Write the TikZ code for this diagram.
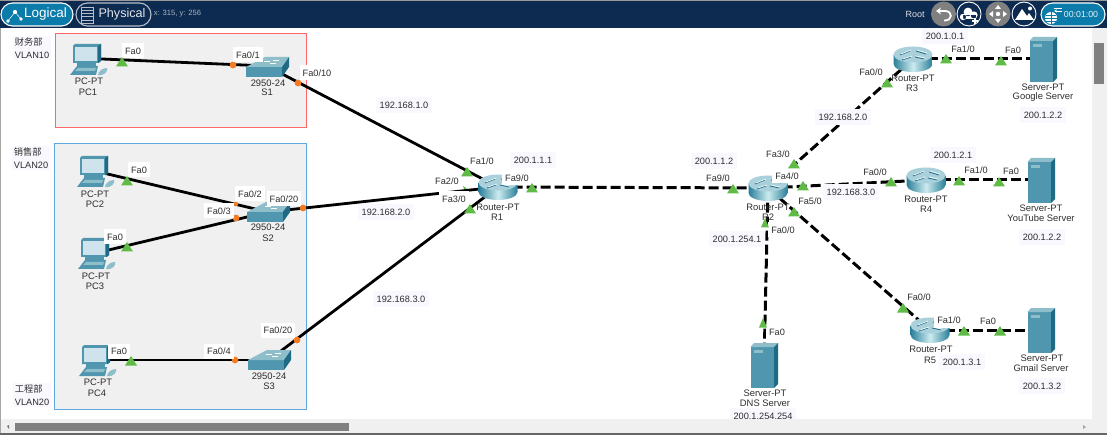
\documentclass[tikz,border=0pt]{standalone}
\usetikzlibrary{arrows.meta}
\usepackage{fontspec}
\setmainfont{Liberation Sans}
\newfontfamily\cjk{Noto Sans CJK SC}
\definecolor{barblue}{HTML}{0D2A50}
\definecolor{pillblue}{HTML}{0B7BAA}
\definecolor{zonegrey}{HTML}{F0F0F0}
\definecolor{tagbg}{HTML}{F8F8FE}
\definecolor{txt}{HTML}{2E2E2E}
\definecolor{portgreen}{HTML}{5FBB46}
\definecolor{portorange}{HTML}{F47B20}
\definecolor{teal}{HTML}{4F96AE}
\definecolor{tealdark}{HTML}{1F6B85}
\definecolor{teallight}{HTML}{8FBECB}
\definecolor{screenblue}{HTML}{CFE3EC}
\definecolor{rtside}{HTML}{2A7F98}
\definecolor{rtmid}{HTML}{CDEBF0}
\definecolor{rttop}{HTML}{A9D0DB}
\newcounter{tagno}
\newcommand{\devlabel}[3]{\stepcounter{tagno}\node[devtxt] (tag\thetagno) at (#1,#2) {#3};}
\newcommand{\portlabel}[3]{\stepcounter{tagno}\node[porttxt] (tag\thetagno) at (#1,#2) {#3};}
\newcommand{\nettag}[3]{\stepcounter{tagno}\node[nettxt] (tag\thetagno) at (#1,#2) {#3};}
\tikzset{
  devtxt/.style={font=\fontsize{9.4}{10}\selectfont,text=txt,inner sep=0pt},
  porttxt/.style={font=\fontsize{9.2}{10}\selectfont,text=txt,fill=white,inner xsep=3pt,inner ysep=0pt,minimum height=15pt},
  nettxt/.style={font=\fontsize{9.2}{10}\selectfont,text=txt,fill=tagbg,inner xsep=4pt,inner ysep=0pt,minimum height=16pt},
  vlantxt/.style={font=\fontsize{9.2}{12.4}\selectfont,text=txt,fill=tagbg,inner xsep=2pt,inner ysep=2pt,align=left},
  anchorpt/.style={inner sep=0pt,minimum size=1pt},
  copper/.style={line width=2.8pt,black},
  fibre/.style={line width=3pt,black,dash pattern=on 10pt off 4pt},
  barpill/.style={rounded corners=11.5pt,line width=1.1pt},
  pics/pcicon/.style={code={
    \fill[teal] (-15,-14) -- (-13,-16) -- (13,-16) -- (13,1) -- (11,3) -- (-15,3) -- cycle;
    \fill[tealdark] (10,-14) -- (13,-16) -- (13,1) -- (10,3) -- cycle;
    \fill[screenblue] (-13,-13) rectangle (9,1);
    \fill[teal] (-11,3) rectangle (8,6);
    \fill[teal] (-18,15) -- (-11,6) -- (10,6) -- (8,15) -- cycle;
    \fill[teallight] (-13,11) -- (-10,8) -- (8,8) -- (7,11) -- cycle;
    \fill[teallight] (10,15) .. controls (10,11) and (15,8) .. (19,8) .. controls (20,11) and (17,16) .. (10,15) -- cycle;
  }},
  pics/swicon/.style={code={
    \fill[teal] (-21,0) rectangle (15,10);
    \fill[teallight] (-21,0) -- (-2,-10) -- (22,-10) -- (15,0) -- cycle;
    \fill[tealdark] (15,0) -- (22,-10) -- (22,0) -- (15,10) -- cycle;
    \draw[white,line width=.5pt] (-3,-6) -- (3,-6) (3,-4) -- (9,-4) (6,-7) -- (12,-7);
  }},
  pics/rticon/.style={code={
    \shade[left color=rtside,right color=rtside,middle color=rtmid]
      (-19.5,-4.5) -- (-19.5,5) arc[start angle=180,end angle=360,x radius=19.5,y radius=-8]
      -- (19.5,-4.5) -- cycle;
    \fill[rttop] (0,-4.5) ellipse[x radius=19.5,y radius=8];
    \draw[tealdark,line width=.8pt] (-13,-4) -- (-3,-8) (-2,-2) -- (-11,1) (3,-8) -- (13,-5) (2,-2) -- (11,0);
    \draw[white,line width=.6pt] (-12,-5) -- (-2,-9) (-1,-3) -- (-10,0) (4,-9) -- (14,-6) (3,-3) -- (12,-1);
  }},
  pics/svicon/.style={code={
    \fill[teal] (-13.5,-18) rectangle (10,23);
    \fill[teallight] (-13.5,-18) -- (-10,-22) -- (14,-22) -- (10,-18) -- cycle;
    \fill[tealdark] (10,-18) -- (14,-22) -- (14,19) -- (10,23) -- cycle;
    \fill[teallight] (-10.5,-15) rectangle (-1,-12);
  }},
}
\begin{document}
\begin{tikzpicture}[x=1pt,y=-1pt]
\useasboundingbox (0,0) rectangle (1107,435);
\clip (0,0) rectangle (1107,435);

% workspace and scroll bars
\fill[white] (0,0) rectangle (1107,435);
\fill[zonegrey] (0,419) rectangle (1107,433);
\fill[zonegrey] (1092,28) rectangle (1107,433);
\fill[black!50] (15,423) rectangle (349,431);
\fill[black!50] (1094,43) rectangle (1104,84);
\fill[black!35] (0,28) rectangle (1,433);
\fill[black!60] (0,433) rectangle (1107,435);
\fill[black!55] (7,426) -- (9,425) -- (9,429) -- cycle;
\fill[black!35] (1083,425) -- (1086,427) -- (1083,429) -- cycle;

% VLAN zones
\draw[draw=red!60,fill=zonegrey,line width=1pt] (55,34) rectangle (306,128);
\draw[draw=cyan!70!blue!65,fill=zonegrey,line width=1pt] (54,144) rectangle (306,409);
\node[vlantxt] (zoneA) at (32,48) {{\cjk 财务部}\\VLAN10};
\node[vlantxt] (zoneB) at (31,158) {{\cjk 销售部}\\VLAN20};
\node[vlantxt] (zoneC) at (32,395) {{\cjk 工程部}\\VLAN20};

% device anchors
\node[anchorpt] (PC1) at (88,58.4) {};
\node[anchorpt] (PC2) at (95,171) {};
\node[anchorpt] (PC3) at (96,253) {};
\node[anchorpt] (PC4) at (97,360) {};
\node[anchorpt] (S1) at (267,66) {};
\node[anchorpt] (S2) at (268,212) {};
\node[anchorpt] (S3) at (269,360) {};
\node[anchorpt] (R1) at (498,187) {};
\node[anchorpt] (R2) at (768,188) {};
\node[anchorpt] (R3) at (913,59) {};
\node[anchorpt] (R4) at (926,180) {};
\node[anchorpt] (R5) at (930,330) {};
\node[anchorpt] (GS) at (1043,59) {};
\node[anchorpt] (YS) at (1041,180) {};
\node[anchorpt] (MS) at (1041,330) {};
\node[anchorpt] (DS) at (764,365) {};

% links
\foreach \a/\b in {PC1/S1,PC2/S2,PC3/S2,PC4/S3,S1/R1,S2/R1,S3/R1}
  \draw[copper] (\a) -- (\b);
\foreach \a/\b in {R1/R2,R2/R3,R2/R4,R2/R5,R2/DS,R3/GS,R4/YS,R5/MS}
  \draw[fibre] (\a) -- (\b);

% device icons
\foreach \n/\x/\y in {1/88/60,2/95/172,3/96/254,4/97/361}
  \pic at (\x,\y) {pcicon};
\foreach \x/\y in {267/67,268/212,269/360}
  \pic at (\x,\y) {swicon};
\foreach \x/\y in {498/187,768/188,913/59,926/180,930/330}
  \pic at (\x,\y) {rticon};
\foreach \x/\y in {1043/59,1041/180,1041/330,764/365}
  \pic at (\x,\y) {svicon};

% switch port dots
\foreach \x/\y in {233/65,298/83,236/218,303/208,235/360,297/340}
  \fill[portorange] (\x,\y) circle[radius=3.4];
\fill[portorange] (236,204) circle[radius=2.2];

% port names
\portlabel{133}{51}{Fa0}
\portlabel{248}{55}{Fa0/1}
\portlabel{317}{73}{Fa0/10}
\portlabel{139}{170}{Fa0}
\portlabel{250}{194}{Fa0/2}
\portlabel{219}{211}{Fa0/3}
\portlabel{284}{199}{Fa0/20}
\portlabel{115}{237}{Fa0}
\portlabel{119}{351}{Fa0}
\portlabel{219}{351}{Fa0/4}
\portlabel{278}{330}{Fa0/20}
\portlabel{482}{161}{Fa1/0}
\portlabel{447}{181}{Fa2/0}
\portlabel{454}{199}{Fa3/0}
\portlabel{517}{178}{Fa9/0}
\portlabel{718}{178}{Fa9/0}
\portlabel{778}{154}{Fa3/0}
\portlabel{787}{176}{Fa4/0}
\portlabel{810}{201}{Fa5/0}
\portlabel{783}{230}{Fa0/0}
\portlabel{875}{172}{Fa0/0}
\portlabel{976}{170}{Fa1/0}
\portlabel{1011}{171}{Fa0}
\portlabel{963}{49}{Fa1/0}
\portlabel{1013}{50}{Fa0}
\portlabel{871}{72}{Fa0/0}
\portlabel{919}{297}{Fa0/0}
\portlabel{949}{320}{Fa1/0}
\portlabel{988}{321}{Fa0}
\portlabel{777}{332}{Fa0}

% green port markers sit above the port names
\foreach \x/\y in {122/62,127/181,127/247,131/361,467/172,470/209,532/188,
  733/189,794/164,803/186,794/212,891/182,887/83,946/59,1001/61,959/181,999/182,
  903/308,964/331,1000/331}
  \fill[portgreen,shift={(\x,\y)}] (-6,4.5) -- (0,-5) -- (6,4.5) -- cycle;
\foreach \x/\y in {765/223,763/323}
  \fill[portgreen,shift={(\x,\y)}] (-4,4.5) -- (0,-5) -- (4,4.5) -- cycle;
\fill[portgreen] (463,186) -- (467,188.5) -- (464,189) -- cycle;

% device names
\foreach \x/\y/\t in {89/81/PC-PT,88/92/PC1,95/194/PC-PT,95/204/PC2,96/276/PC-PT,95/286/PC3,
  98/382/PC-PT,97/393/PC4,268/83/2950-24,267/92/S1,268/227/2950-24,268/238/S2,
  269/376/2950-24,269/386/S3,498/207/Router-PT,497/217/R1,768/207/Router-PT,768/217/R2,
  913/78/Router-PT,912/88/R3,926/199/Router-PT,926/209/R4,931/349/Router-PT,930/360/R5,
  1043/87/Server-PT,1043/97/Google Server,1041/208/Server-PT,1041/218/YouTube Server,
  1042/358/Server-PT,1041/368/Gmail Server,765/393/Server-PT,765/403/DNS Server}
  {\devlabel{\x}{\y}{\t}}

% addresses
\nettag{404}{105}{192.168.1.0}
\nettag{386}{212}{192.168.2.0}
\nettag{401}{299}{192.168.3.0}
\nettag{533}{160}{200.1.1.1}
\nettag{714}{161}{200.1.1.2}
\nettag{737}{239}{200.1.254.1}
\nettag{851}{192}{192.168.3.0}
\nettag{843}{117}{192.168.2.0}
\nettag{953}{155}{200.1.2.1}
\nettag{945}{36}{200.1.0.1}
\nettag{1043}{115}{200.1.2.2}
\nettag{1042}{237}{200.1.2.2}
\nettag{962}{362}{200.1.3.1}
\nettag{1042}{386}{200.1.3.2}
\nettag{763}{416}{200.1.254.254}
\fill[zonegrey] (700,419) rectangle (830,433);

% top toolbar
\fill[barblue] (0,0) rectangle (1107,28);
\fill[black!40] (0,0) rectangle (1107,.8);
\draw[barpill,draw=white,fill=pillblue] (1,3) rectangle (73,26);
\foreach \p/\q/\r in {8/21/1.9,15/12/2.1,21/19/1.9}
  \fill[white] (\p,\q) circle[radius=\r];
\draw[white,line width=.5pt] (8,21) -- (15,12) -- (21,19);
\node[font=\fontsize{13.5}{15}\selectfont,text=white,inner sep=0pt] (tabLogical) at (45.5,14.5) {Logical};
\draw[barpill,draw=white!70!barblue] (76,3) rectangle (151,26);
\draw[white!70!barblue,line width=.7pt] (81,7) rectangle (93,23);
\foreach \q in {10.2,13.4,16.6,19.8}
  \draw[white!70!barblue,line width=.5pt] (81,\q) -- (93,\q);
\node[font=\fontsize{12.6}{15}\selectfont,text=white!88!barblue,inner sep=0pt] (tabPhysical) at (122,14.5) {Physical};
\node[font=\fontsize{7.6}{9}\selectfont,text=white!65!barblue,inner sep=0pt] (cursorpos) at (177.5,13.5) {x: 315, y: 256};
\node[font=\fontsize{9}{10}\selectfont,text=white!85!barblue,inner sep=0pt] (rootlabel) at (915,14.5) {Root};

\fill[black!50] (943.5,14) circle[radius=12.5];
\draw[white,line width=1.8pt,-{Stealth[length=5pt,width=7pt]}] (944,20.5) .. controls (953,21) and (953,11) .. (945,11) -- (936,11);
\draw[white,line width=.9pt] (969,14) circle[radius=12];
\fill[white] (963,17) circle[radius=3.2] (968,12) circle[radius=4.4] (974,15) circle[radius=3.6] (963,15) rectangle (976,19);
\draw[white,line width=1.2pt] (975,18) -- (975,24) (972,21) -- (978,21);
\fill[black!50] (998,14) circle[radius=12.5];
\fill[white] (998,5) -- (1001,9) -- (995,9) -- cycle (998,23) -- (1001,19) -- (995,19) -- cycle
  (989,14) -- (993,11) -- (993,17) -- cycle (1007,14) -- (1003,11) -- (1003,17) -- cycle
  (998,14) circle[radius=2.2];
\draw[white,line width=.9pt] (1024,14) circle[radius=12];
\fill[white] (1015,20) -- (1022,9) -- (1027,16) -- (1029,13) -- (1034,20) -- cycle (1030,8.5) circle[radius=2];
\draw[barpill,draw=white,fill=pillblue] (1041,3) rectangle (1105,26);
\fill[white] (1051,18) circle[radius=6];
\draw[pillblue,line width=.5pt] (1045,18) -- (1057,18) (1051,12) -- (1051,24) (1046,15) -- (1056,15) (1046,21) -- (1056,21);
\draw[white,line width=.8pt,-{Stealth[length=3pt,width=3pt]}] (1062,11) -- (1054,11);
\draw[white,line width=.8pt] (1054,8) -- (1062,8);
\node[font=\fontsize{8.8}{10}\selectfont,text=white!90!pillblue,inner sep=0pt] (clock) at (1081,14.5) {00:01:00};
\end{tikzpicture}
\end{document}
